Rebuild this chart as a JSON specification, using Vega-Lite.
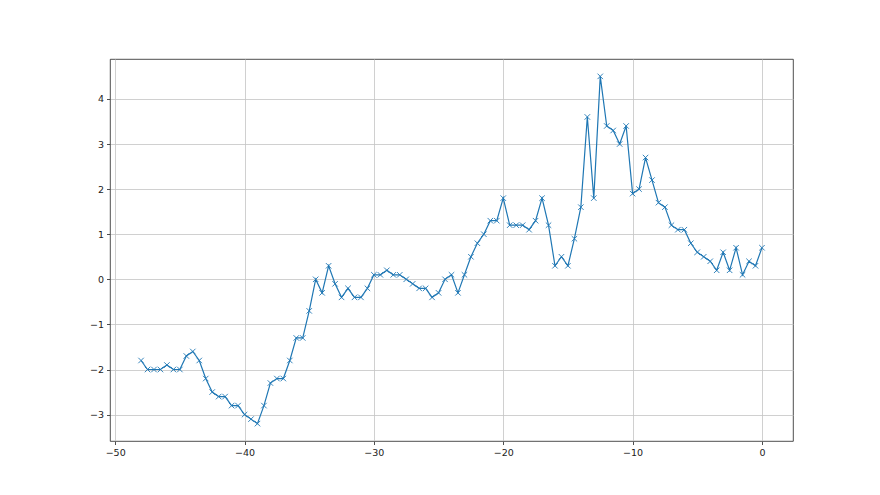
{
  "$schema": "https://vega.github.io/schema/vega-lite/v6.json",
  "width": 683,
  "height": 382,
  "autosize": {"type": "none"},
  "padding": {"left": 110, "top": 59, "right": 87, "bottom": 54},
  "background": "white",
  "config": {
    "view": {"stroke": "#222222", "strokeWidth": 0.8},
    "axis": {
      "grid": true,
      "gridColor": "#c4c4c4",
      "gridWidth": 0.8,
      "domain": false,
      "tickColor": "#222222",
      "tickSize": 3.5,
      "tickWidth": 0.8,
      "labelColor": "#222222",
      "labelFont": "DejaVu Sans",
      "labelFontSize": 9.5,
      "labelPadding": 3,
      "title": null
    }
  },
  "data": {
    "values": [
      {"x": -48, "y": -1.8}, {"x": -47.5, "y": -2.0}, {"x": -47, "y": -2.0}, {"x": -46.5, "y": -2.0},
      {"x": -46, "y": -1.9}, {"x": -45.5, "y": -2.0}, {"x": -45, "y": -2.0}, {"x": -44.5, "y": -1.7},
      {"x": -44, "y": -1.6}, {"x": -43.5, "y": -1.8}, {"x": -43, "y": -2.2}, {"x": -42.5, "y": -2.5},
      {"x": -42, "y": -2.6}, {"x": -41.5, "y": -2.6}, {"x": -41, "y": -2.8}, {"x": -40.5, "y": -2.8},
      {"x": -40, "y": -3.0}, {"x": -39.5, "y": -3.1}, {"x": -39, "y": -3.2}, {"x": -38.5, "y": -2.8},
      {"x": -38, "y": -2.3}, {"x": -37.5, "y": -2.2}, {"x": -37, "y": -2.2}, {"x": -36.5, "y": -1.8},
      {"x": -36, "y": -1.3}, {"x": -35.5, "y": -1.3}, {"x": -35, "y": -0.7}, {"x": -34.5, "y": 0.0},
      {"x": -34, "y": -0.3}, {"x": -33.5, "y": 0.3}, {"x": -33, "y": -0.1}, {"x": -32.5, "y": -0.4},
      {"x": -32, "y": -0.2}, {"x": -31.5, "y": -0.4}, {"x": -31, "y": -0.4}, {"x": -30.5, "y": -0.2},
      {"x": -30, "y": 0.1}, {"x": -29.5, "y": 0.1}, {"x": -29, "y": 0.2}, {"x": -28.5, "y": 0.1},
      {"x": -28, "y": 0.1}, {"x": -27.5, "y": 0.0}, {"x": -27, "y": -0.1}, {"x": -26.5, "y": -0.2},
      {"x": -26, "y": -0.2}, {"x": -25.5, "y": -0.4}, {"x": -25, "y": -0.3}, {"x": -24.5, "y": 0.0},
      {"x": -24, "y": 0.1}, {"x": -23.5, "y": -0.3}, {"x": -23, "y": 0.1}, {"x": -22.5, "y": 0.5},
      {"x": -22, "y": 0.8}, {"x": -21.5, "y": 1.0}, {"x": -21, "y": 1.3}, {"x": -20.5, "y": 1.3},
      {"x": -20, "y": 1.8}, {"x": -19.5, "y": 1.2}, {"x": -19, "y": 1.2}, {"x": -18.5, "y": 1.2},
      {"x": -18, "y": 1.1}, {"x": -17.5, "y": 1.3}, {"x": -17, "y": 1.8}, {"x": -16.5, "y": 1.2},
      {"x": -16, "y": 0.3}, {"x": -15.5, "y": 0.5}, {"x": -15, "y": 0.3}, {"x": -14.5, "y": 0.9},
      {"x": -14, "y": 1.6}, {"x": -13.5, "y": 3.6}, {"x": -13, "y": 1.8}, {"x": -12.5, "y": 4.5},
      {"x": -12, "y": 3.4}, {"x": -11.5, "y": 3.3}, {"x": -11, "y": 3.0}, {"x": -10.5, "y": 3.4},
      {"x": -10, "y": 1.9}, {"x": -9.5, "y": 2.0}, {"x": -9, "y": 2.7}, {"x": -8.5, "y": 2.2},
      {"x": -8, "y": 1.7}, {"x": -7.5, "y": 1.6}, {"x": -7, "y": 1.2}, {"x": -6.5, "y": 1.1},
      {"x": -6, "y": 1.1}, {"x": -5.5, "y": 0.8}, {"x": -5, "y": 0.6}, {"x": -4.5, "y": 0.5},
      {"x": -4, "y": 0.4}, {"x": -3.5, "y": 0.2}, {"x": -3, "y": 0.6}, {"x": -2.5, "y": 0.2},
      {"x": -2, "y": 0.7}, {"x": -1.5, "y": 0.1}, {"x": -1, "y": 0.4}, {"x": -0.5, "y": 0.3},
      {"x": 0, "y": 0.7}
    ]
  },
  "encoding": {
    "x": {
      "field": "x", "type": "quantitative",
      "scale": {"domain": [-50.4, 2.4], "nice": false, "zero": false},
      "axis": {"values": [-50, -40, -30, -20, -10, 0], "labelExpr": "replace(format(datum.value, 'd'), '-', '\u2212')"}
    },
    "y": {
      "field": "y", "type": "quantitative",
      "scale": {"domain": [-3.585, 4.885], "nice": false, "zero": false},
      "axis": {"values": [-3, -2, -1, 0, 1, 2, 3, 4], "labelExpr": "replace(format(datum.value, 'd'), '-', '\u2212')"}
    }
  },
  "layer": [
    {"mark": {"type": "line", "color": "#1f77b4", "strokeWidth": 1.2, "clip": true}},
    {"mark": {"type": "point", "shape": "M-1,-1L1,1M-1,1L1,-1", "filled": false, "stroke": "#1f77b4", "strokeWidth": 0.9, "size": 30, "opacity": 1}}
  ]
}
